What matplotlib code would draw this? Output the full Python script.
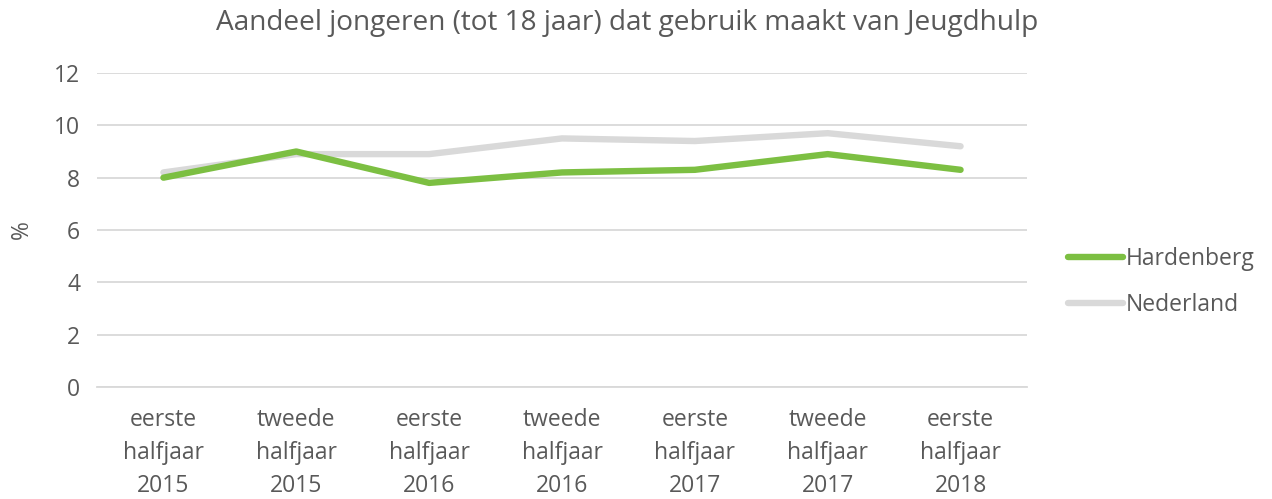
import matplotlib
matplotlib.use("Agg")
import matplotlib.pyplot as plt

categories = ["eerste\nhalfjaar\n2015", "tweede\nhalfjaar\n2015", "eerste\nhalfjaar\n2016",
              "tweede\nhalfjaar\n2016", "eerste\nhalfjaar\n2017", "tweede\nhalfjaar\n2017",
              "eerste\nhalfjaar\n2018"]
hardenberg = [8.0, 9.0, 7.8, 8.2, 8.3, 8.9, 8.3]
nederland = [8.2, 8.9, 8.9, 9.5, 9.4, 9.7, 9.2]
yticks = [0, 2, 4, 6, 8, 10, 12]

plt.rcParams['font.family'] = ['Open Sans', 'DejaVu Sans']
txt = '#595959'
fs = 16.5
fig = plt.figure(figsize=(12.72, 4.99), dpi=100)
ax = fig.add_axes([97/1272, 1-387/499, 930/1272, 314/499])
x = list(range(len(categories)))
ax.plot(x, nederland, color='#d9d9d9', lw=4.6, solid_capstyle='round', label='Nederland', zorder=3)
ax.plot(x, hardenberg, color='#7cbf42', lw=4.6, solid_capstyle='round', label='Hardenberg', zorder=4)
ax.set_xlim(-0.5, 6.5)
ax.set_ylim(0, 12)
ax.set_yticks(yticks)
ax.set_xticks(x)
ax.set_xticklabels(categories, linespacing=1.5)
ax.grid(axis='y', color='#d9d9d9', lw=1.3)
ax.set_axisbelow(True)
for s in ['top', 'right', 'left']:
    ax.spines[s].set_visible(False)
ax.spines['bottom'].set_color('#d9d9d9')
ax.spines['bottom'].set_linewidth(1.3)
ax.tick_params(axis='both', length=0, labelsize=fs, colors=txt)
ax.tick_params(axis='y', pad=12)
ax.tick_params(axis='x', pad=15)
ax.set_ylabel('%', fontsize=fs, color=txt, labelpad=15)
fig.text(627/1272, 1-23/499, 'Aandeel jongeren (tot 18 jaar) dat gebruik maakt van Jeugdhulp',
         ha='center', va='center', fontsize=20.2, color=txt)
h, l = ax.get_legend_handles_labels()
leg = fig.legend([h[1], h[0]], [l[1], l[0]], loc='center left', bbox_to_anchor=(1047/1272, 1-282/499),
                 frameon=False, fontsize=fs, handlelength=2.4, handletextpad=0.15, labelspacing=0.95,
                 labelcolor=txt)
fig.savefig('out.png', dpi=100)
